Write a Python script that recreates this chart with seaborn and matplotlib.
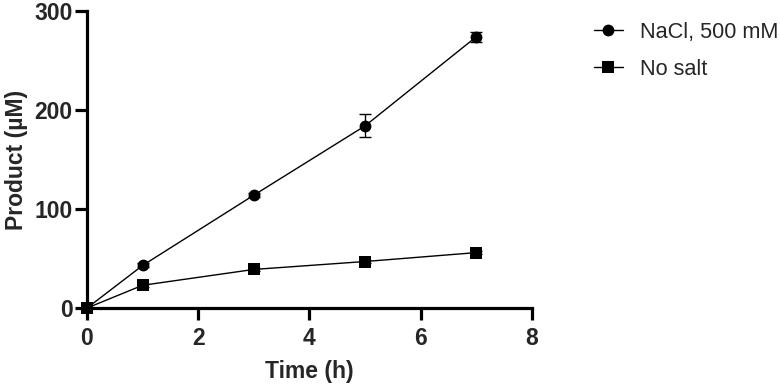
import pandas as pd
import seaborn as sns
import matplotlib.pyplot as plt

time_h = [0, 1, 3, 5, 7]
nacl_mean = [0, 43, 114, 184, 274]
nacl_sd = [0, 2, 2, 11.5, 5]
nosalt_mean = [0, 23, 39, 47, 56]
nosalt_sd = [0, 1.5, 1.5, 1.5, 1.5]
labels = ['NaCl, 500 mM', 'No salt']

df = pd.DataFrame({
    'Time': time_h * 2,
    'Product': nacl_mean + nosalt_mean,
    'SD': nacl_sd + nosalt_sd,
    'Condition': [labels[0]] * len(time_h) + [labels[1]] * len(time_h),
})

sns.set_style('ticks')
plt.rcParams['font.family'] = ['Liberation Sans', 'DejaVu Sans']

fig = plt.figure(figsize=(7.8, 3.87), dpi=100)
ax = fig.add_axes([0.1115, 0.204, 0.5705, 0.7676])

# error bars first so markers sit on top
for cond in labels:
    sub = df[df['Condition'] == cond]
    ax.errorbar(sub['Time'], sub['Product'], yerr=sub['SD'], fmt='none',
                ecolor='black', elinewidth=1, capsize=4, capthick=1,
                zorder=2, clip_on=False)

sns.lineplot(data=df, x='Time', y='Product', hue='Condition', style='Condition',
             palette=['black', 'black'], markers={labels[0]: 'o', labels[1]: 's'},
             dashes=False, linewidth=1, markersize=8.5, markeredgewidth=0,
             ax=ax, zorder=3, clip_on=False)

ax.set_xlim(0, 8)
ax.set_ylim(0, 300)
ax.set_xticks([0, 2, 4, 6, 8])
ax.set_yticks([0, 100, 200, 300])
sns.despine(ax=ax)
for s in ['left', 'bottom']:
    ax.spines[s].set_linewidth(2.3)
    ax.spines[s].set_color('black')
ax.tick_params(width=2.3, length=8.5, color='black', labelsize=16.5)
ax.tick_params(axis='x', pad=5)
ax.tick_params(axis='y', pad=2)
for t in ax.get_xticklabels() + ax.get_yticklabels():
    t.set_fontweight('bold')

ax.set_xlabel('Time (h)', fontsize=16.5, fontweight='bold', labelpad=7)
ax.set_ylabel('Product (µM)', fontsize=16.5, fontweight='bold', labelpad=4)

ax.legend_.remove()
handles, lbls = ax.get_legend_handles_labels()
fig.legend(handles, lbls, loc='upper left', bbox_to_anchor=(0.762, 0.944),
           frameon=False, fontsize=15.6, handlelength=1.3, handletextpad=0.8,
           labelspacing=0.75, borderpad=0, borderaxespad=0)

fig.savefig('out.png', dpi=100)
